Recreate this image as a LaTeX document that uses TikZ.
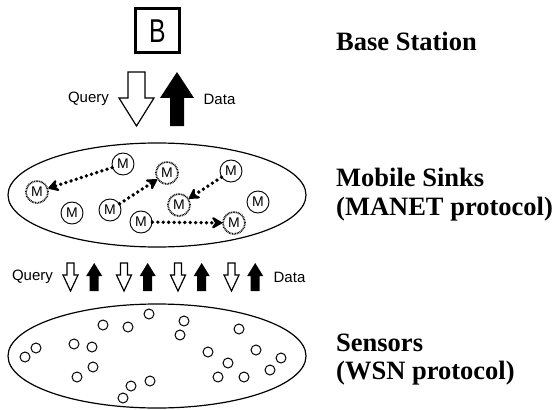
\documentclass[tikz,border=0pt]{standalone}
\usepackage{fontspec}
\setmainfont{Liberation Serif}
\newfontfamily\arialf{Liberation Sans}
\usetikzlibrary{arrows.meta,shapes.geometric}

\tikzset{
  ring/.style={ellipse, draw, line width=1.2pt, minimum width=298pt, minimum height=104pt, inner sep=0pt},
  basebox/.style={draw, line width=3pt, minimum size=44pt, inner sep=0pt},
  sink/.style={circle, draw, line width=0.9pt, minimum size=22pt, inner sep=0pt, font=\arialf\fontsize{14}{14}\selectfont},
  sinkdot/.style={sink, line width=1.8pt, dash pattern=on 0.8pt off 0.8pt},
  sensor/.style={circle, draw, line width=1pt, minimum size=10pt, inner sep=0pt},
  move/.style={line width=3.8pt, line cap=round, dash pattern=on 0pt off 5.4pt,
    -{Stealth[length=13pt,width=15pt,inset=5pt,round]}},
  smalltext/.style={font=\arialf\fontsize{15}{15}\selectfont, inner sep=0pt},
  bigtext/.style={font=\bfseries\fontsize{26.5}{26.5}\selectfont, inner sep=0pt, anchor=base west},
  pics/downarrow/.style n args={4}{code={
    \draw[line width=1.2pt, fill=white, line join=miter]
      (-#1,0) -- (-#1,#3) -- (-#2,#3) -- (0,#4) -- (#2,#3) -- (#1,#3) -- (#1,0) -- cycle;}},
  pics/uparrow/.style n args={4}{code={
    \fill[black]
      (-#1,0) -- (-#1,-#3) -- (-#2,-#3) -- (0,-#4) -- (#2,-#3) -- (#1,-#3) -- (#1,0) -- cycle;}},
}

\begin{document}
\begin{tikzpicture}[x=1pt, y=-1pt]
  \useasboundingbox (0,0) rectangle (556,409);

  % base station
  \node[basebox] (base) at (157.5,31) {\arialf\fontsize{33}{33}\selectfont\scalebox{0.75}[1]{B}};

  % query / data between base station and sinks
  \pic at (136.5,72) {downarrow={8.5}{17.5}{26}{54}};
  \pic at (177,126) {uparrow={7}{17}{28}{54}};
  \node[smalltext] (q1) at (88.5,99) {Query};
  \node[smalltext] (d1) at (219.5,99) {Data};

  % mobile sinks layer
  \node[ring] (sinks) at (157,195) {};
  \node[sink]    (m1)  at (123,164) {M};
  \node[sinkdot] (m2)  at (37,192)  {M};
  \node[sink]    (m3)  at (72,213)  {M};
  \node[sink]    (m4)  at (110,210) {M};
  \node[sinkdot] (m5)  at (167,173) {M};
  \node[sink]    (m6)  at (231,171) {M};
  \node[sinkdot] (m7)  at (179,205) {M};
  \node[sink]    (m8)  at (141,222) {M};
  \node[sinkdot] (m9)  at (234,223) {M};
  \node[sink]    (m10) at (258,202) {M};
  \draw[move] (m1) -- (m2);
  \draw[move] (m4) -- (m5);
  \draw[move] (m6) -- (m7);
  \draw[move] (m8) -- (m9);

  % query / data between sinks and sensors
  \foreach \cx in {70.5,124,178,231.5} {
    \pic at (\cx,263) {downarrow={3.5}{7.5}{12}{28}};
    \pic at (\cx+23.7,291) {uparrow={4.5}{8}{15}{28}};
  }
  \node[smalltext] (q2) at (32.5,277) {Query};
  \node[smalltext] (d2) at (289.5,277) {Data};

  % sensor layer
  \node[ring] (field) at (157,356) {};
  \foreach \p [count=\i] in {(25,357),(36,348),(74,344),(92,347),(93,367),(77,377),
      (103,325),(128,327),(149,314),(184,321),(180,335),(131,386),(123,398),(150,381),
      (239,329),(208,352),(228,363),(218,377),(244,377),(256,350),(270,370),(281,358)}
    \node[sensor] (s\i) at \p {};

  % layer labels
  \node[bigtext] (lb)  at (336,51)  {Base Station};
  \node[bigtext] (lm1) at (336,186) {Mobile Sinks};
  \node[bigtext] (lm2) at (336,215) {(MANET protocol)};
  \node[bigtext] (ls1) at (336,351) {Sensors};
  \node[bigtext] (ls2) at (336,379) {(WSN protocol)};
\end{tikzpicture}
\end{document}
